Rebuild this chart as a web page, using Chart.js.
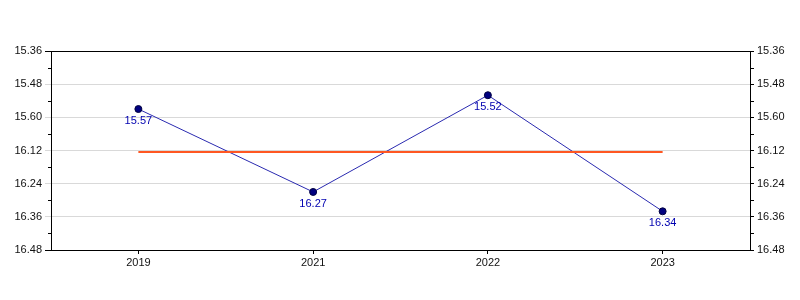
<!DOCTYPE html>
<html>
<head>
<meta charset="utf-8">
<script src="https://cdn.jsdelivr.net/npm/chart.js@4"></script>
<style>
    html, body { margin: 0; padding: 0; background: #fff; }
    canvas { display: block; }
</style>
</head>
<body>
<canvas id="chart" width="800" height="300"></canvas>
<script>
// categories and values (times are mm.ss, kept in seconds for the scale)
const years = ['2019', '2021', '2022', '2023'];
const seconds = [957, 987, 952, 994];
const pointLabels = ['15.57', '16.27', '15.52', '16.34'];
const averageSeconds = [972.5, 972.5, 972.5, 972.5];
const yTickLabels = ['15.36', '15.48', '15.60', '16.12', '16.24', '16.36', '16.48'];
const yMin = 936;
const yMax = 1008;
const yStep = 12;

const FONT = 'Arial, "Liberation Sans", sans-serif';
const GRID = '#d9d9d9';

// draws the frame, minor ticks and value labels under each point
const decorations = {
    id: 'decorations',
    afterDraw(chart) {
        const c = chart.ctx;
        const area = chart.chartArea;
        const y = chart.scales.y;
        c.save();
        c.strokeStyle = '#000';
        c.lineWidth = 1;
        c.beginPath();
        c.moveTo(Math.round(area.left), Math.round(area.top) + 0.5);
        c.lineTo(Math.round(area.right) + 1, Math.round(area.top) + 0.5);
        c.stroke();

        // minor ticks halfway between major ones
        for (let i = 0; i < y.ticks.length - 1; i++) {
            const py = Math.round((y.getPixelForValue(y.ticks[i].value) + y.getPixelForValue(y.ticks[i + 1].value)) / 2) + 0.5;
            c.beginPath();
            c.moveTo(area.left - 3, py); c.lineTo(area.left, py);
            c.moveTo(area.right, py); c.lineTo(area.right + 4, py);
            c.stroke();
        }

        const meta = chart.getDatasetMeta(1);
        c.fillStyle = '#0000b0';
        c.font = '11px ' + FONT;
        c.textAlign = 'center';
        c.textBaseline = 'middle';
        meta.data.forEach((pt, i) => {
            c.fillText(pointLabels[i], pt.x, pt.y + 12);
        });
        c.restore();
    }
};

const isEdge = value => value === yMin || value === yMax;

const yAxis = (position, width, tickLength) => ({
    type: 'linear',
    position,
    reverse: true,
    min: yMin,
    max: yMax,
    afterFit(scale) { scale.width = width; },
    border: { display: true, color: '#000' },
    grid: {
        drawOnChartArea: position === 'left',
        color: ctx => (ctx.tick && isEdge(ctx.tick.value)) ? 'rgba(0,0,0,0)' : GRID,
        tickColor: ctx => position === 'left' && !(ctx.tick && isEdge(ctx.tick.value)) ? GRID : '#000',
        tickLength
    },
    ticks: {
        stepSize: yStep,
        padding: 3,
        color: '#111',
        font: { size: 11, family: FONT },
        callback: value => yTickLabels[Math.round((value - yMin) / yStep)]
    }
});

new Chart(document.getElementById('chart'), {
    type: 'line',
    data: {
        labels: years,
        datasets: [
            {
                data: averageSeconds,
                borderColor: '#ff5722',
                borderWidth: 2,
                pointRadius: 0,
                pointHoverRadius: 0,
                fill: false
            },
            {
                data: seconds,
                borderColor: '#2a2ab0',
                borderWidth: 1,
                pointRadius: 3.5,
                pointBackgroundColor: '#000080',
                pointBorderColor: '#000040',
                pointBorderWidth: 1,
                tension: 0,
                fill: false
            }
        ]
    },
    options: {
        responsive: false,
        animation: false,
        layout: { padding: { top: 51, left: 0, right: 0, bottom: 0 } },
        plugins: { legend: { display: false }, tooltip: { enabled: false } },
        scales: {
            x: {
                type: 'category',
                offset: true,
                afterFit(scale) { scale.height = 50; },
                border: { display: true, color: '#000' },
                grid: { drawOnChartArea: false, tickColor: '#000', tickLength: 4 },
                ticks: { padding: 2, color: '#111', font: { size: 11, family: FONT } }
            },
            y: yAxis('left', 51, 6),
            y2: yAxis('right', 50, 4)
        }
    },
    plugins: [decorations]
});
</script>
</body>
</html>
